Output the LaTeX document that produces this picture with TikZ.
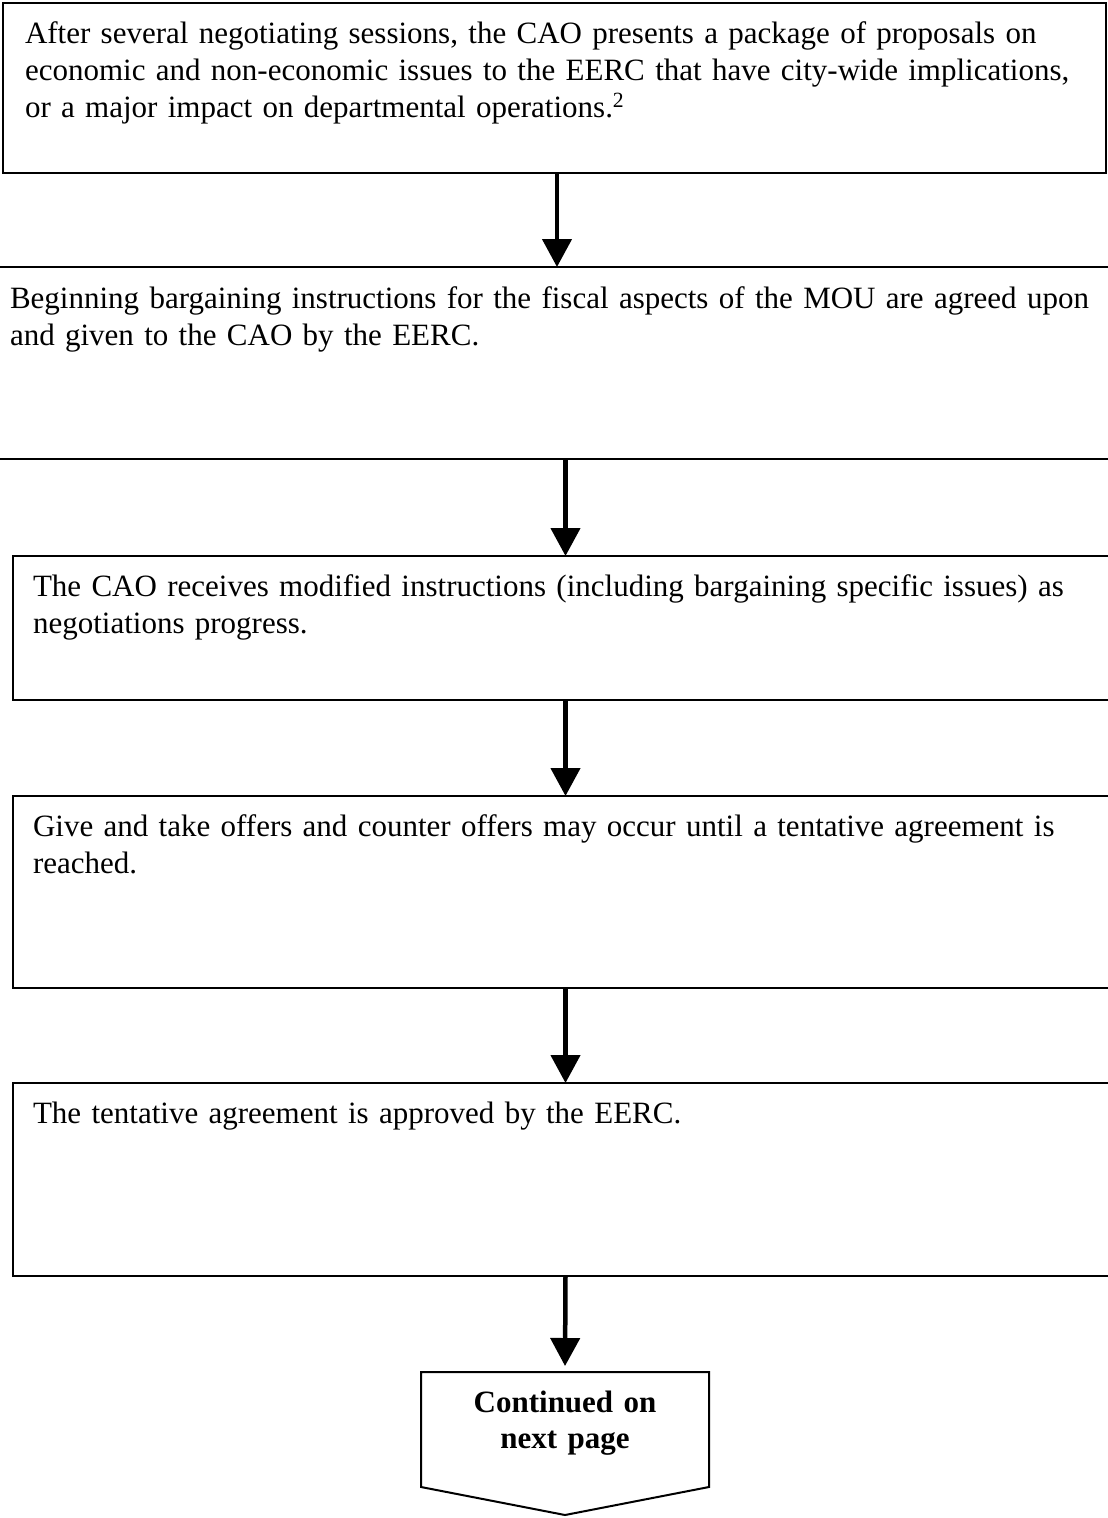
\documentclass[tikz,border=0pt]{standalone}
\usepackage{fontspec}
\setmainfont{Liberation Serif}
\usepackage{tikz}
\usetikzlibrary{arrows.meta, positioning, shapes, calc}

\begin{document}
\begin{tikzpicture}[x=1pt, y=-1pt, >={Triangle[length=28pt,width=29pt]},
        every node/.style={inner sep=0pt, outer sep=0pt},
        stepbox/.style={draw, line width=2pt, anchor=north west, minimum width=1105pt},
        flow/.style={->, line width=4.5pt}]
        % 画布大小
        \useasboundingbox (0,0) rectangle (1108,1518);
        \clip (0,0) rectangle (1108,1518);
        % 各步骤方框(右侧伸出画布)
        \node[stepbox, minimum width=1103pt, minimum height=170pt] (s1) at (3,3) {};
        \node[stepbox, minimum width=1130pt, minimum height=192pt] (s2) at (-10,267) {};
        \node[stepbox, minimum height=144pt] (s3) at (13,556) {};
        \node[stepbox, minimum height=192pt] (s4) at (13,796) {};
        \node[stepbox, minimum height=193pt] (s5) at (13,1083) {};
        % 方框内文字样式
        \tikzset{steptext/.style={anchor=base west, text width=1200pt, align=left,
            font=\fontsize{31pt}{37pt}\selectfont}}
        \node[steptext] (t1) at ([xshift=22pt,yshift=-40pt]s1.north west)
            {After several negotiating sessions, the CAO presents a package of proposals on\\
             economic and non-economic issues to the EERC that have city-wide implications,\\
             or a major impact on departmental operations.\textsuperscript{2}};
        \node[steptext] (t2) at ([xshift=20pt,yshift=-41pt]s2.north west)
            {Beginning bargaining instructions for the fiscal aspects of the MOU are agreed upon\\
             and given to the CAO by the EERC.};
        \node[steptext] (t3) at ([xshift=20pt,yshift=-40pt]s3.north west)
            {The CAO receives modified instructions (including bargaining specific issues) as\\
             negotiations progress.};
        \node[steptext] (t4) at ([xshift=20pt,yshift=-40pt]s4.north west)
            {Give and take offers and counter offers may occur until a tentative agreement is\\
             reached.};
        \node[steptext] (t5) at ([xshift=20pt,yshift=-40pt]s5.north west)
            {The tentative agreement is approved by the EERC.};
        % 下页续接符号
        \node[minimum width=288pt, minimum height=115pt, anchor=north] (cont) at (565,1372) {};
        \draw[line width=2pt, line join=miter] (cont.north west) -- (cont.north east)
            -- (cont.south east) -- ([yshift=-28pt]cont.south) -- (cont.south west) -- cycle;
        \node[anchor=base, text width=288pt, align=center,
            font=\fontsize{31pt}{36pt}\selectfont\bfseries] (contlbl)
            at ([yshift=-40pt]cont.north) {Continued on\\next page};
        % 箭头
        \coordinate (a1) at ([xshift=2.5pt]s1.south);
        \draw[flow] (a1) -- (a1 |- s2.north);
        \draw[flow] (s2.south -| s3.north) -- (s3.north);
        \draw[flow] (s3.south) -- (s4.north);
        \draw[flow] (s4.south) -- (s5.north);
        \draw[flow, shorten >=6pt] (s5.south) -- (cont.north);
    \end{tikzpicture}
\end{document}
